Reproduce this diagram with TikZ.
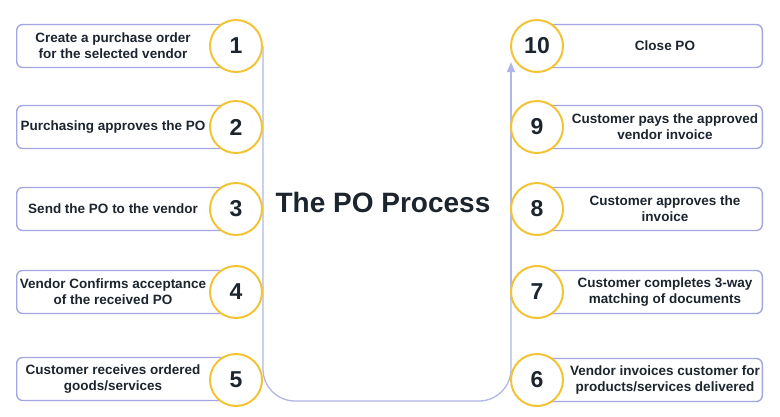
\documentclass[tikz,border=0pt]{standalone}
\usepackage{fontspec}
\setmainfont{Liberation Sans}
\usetikzlibrary{backgrounds,arrows.meta}
\definecolor{boxline}{RGB}{163,166,226}
\definecolor{conline}{RGB}{178,181,232}
\definecolor{gold}{RGB}{242,196,52}
\definecolor{ink}{RGB}{28,36,46}
\begin{document}
\begin{tikzpicture}[x=1pt,y=-1pt,
 lbox/.style={draw=boxline, line width=1.4pt, rounded corners=6pt, minimum width=220pt, minimum height=43pt, anchor=west, inner sep=0pt},
 rbox/.style={draw=boxline, line width=1.4pt, rounded corners=6pt, minimum width=226pt, minimum height=43pt, anchor=east, inner sep=0pt},
 num/.style={circle, draw=gold, line width=2pt, fill=white, minimum size=52pt, inner sep=0pt, font=\fontsize{23}{23}\selectfont\bfseries, text=ink},
 txt/.style={font=\fontsize{13.5}{16}\selectfont\bfseries, text=ink, align=center, inner sep=0pt},
 title/.style={font=\fontsize{28}{30}\selectfont\bfseries, text=ink, inner sep=0pt},
 conn/.style={draw=conline, line width=1.3pt}
]
\useasboundingbox (0,0) rectangle (780,416);
% left column
\node[lbox] (b1) at (16,46) {};
\node[lbox] (b2) at (16,127) {};
\node[lbox] (b3) at (16,209) {};
\node[lbox] (b4) at (16,292) {};
\node[lbox] (b5) at (16,379) {};
\node[txt] (t1) at (113,46) {Create a purchase order\\for the selected vendor};
\node[txt] (t2) at (113,127) {Purchasing approves the PO};
\node[txt] (t3) at (113,209) {Send the PO to the vendor};
\node[txt] (t4) at (113,292) {Vendor Confirms acceptance\\of the received PO};
\node[txt] (t5) at (113,379) {Customer receives ordered\\goods/services};
\node[num] (c1) at (236,46) {1};
\node[num] (c2) at (236,127) {2};
\node[num] (c3) at (236,209) {3};
\node[num] (c4) at (236,292) {4};
\node[num] (c5) at (236,380) {5};
% right column
\node[rbox] (b10) at (763,46) {};
\node[rbox] (b9) at (763,127) {};
\node[rbox] (b8) at (763,209) {};
\node[rbox] (b7) at (763,292) {};
\node[rbox] (b6) at (763,380) {};
\node[txt] (t10) at (665,46) {Close PO};
\node[txt] (t9) at (665,127) {Customer pays the approved\\vendor invoice};
\node[txt] (t8) at (665,209) {Customer approves the\\invoice};
\node[txt] (t7) at (665,292) {Customer completes 3-way\\matching of documents};
\node[txt] (t6) at (665,380) {Vendor invoices customer for\\products/services delivered};
\node[num] (c10) at (537,46) {10};
\node[num] (c9) at (537,127) {9};
\node[num] (c8) at (537,209) {8};
\node[num] (c7) at (537,292) {7};
\node[num] (c6) at (537,380) {6};
% title
\node[title] (title) at (383,202) {The PO Process};
% connector
\coordinate (bl) at (263,401);
\coordinate (br) at (511,401);
\coordinate (aend) at (511,62);
\begin{scope}[on background layer]
\draw[conn, rounded corners=32pt] (c1.east) -- (bl) -- (br) -- (511,300);
\draw[conn, -{Triangle[length=10pt,width=8pt]}] (511,300) -- (aend);
\end{scope}
\end{tikzpicture}
\end{document}
